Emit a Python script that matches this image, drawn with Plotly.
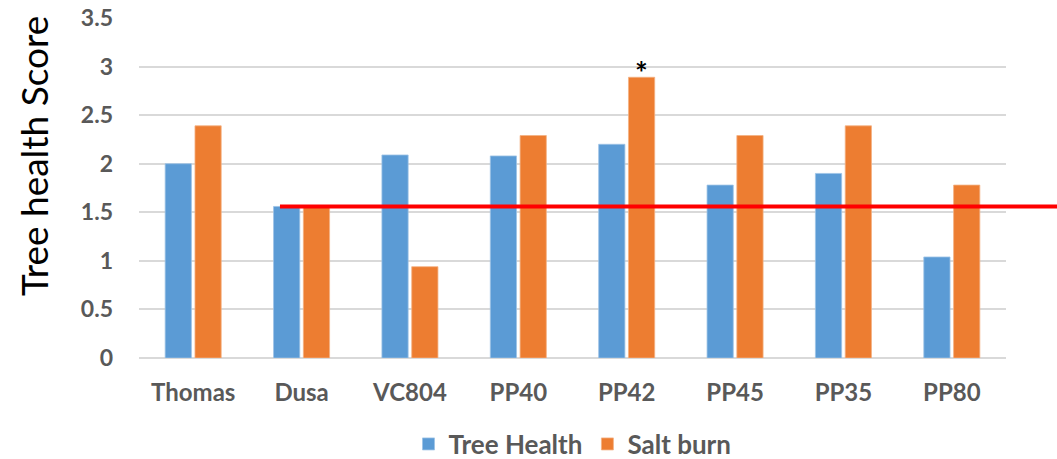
import plotly.graph_objects as go

categories = ["Thomas", "Dusa", "VC804", "PP40", "PP42", "PP45", "PP35", "PP80"]
tree_health = [2.0, 1.56, 2.09, 2.08, 2.2, 1.78, 1.9, 1.04]
salt_burn = [2.39, 1.56, 0.94, 2.29, 2.89, 2.29, 2.39, 1.78]
threshold = 1.56
star_category = "PP42"
star_value = 2.89
y_title = "Tree health Score"

BLUE = "#5B9BD5"
ORANGE = "#ED7D31"
GRAY = "#595959"
FONT = "Lato"

fig = go.Figure()
fig.add_trace(go.Bar(name="Tree Health", x=categories, y=tree_health,
                     marker=dict(color=BLUE, line=dict(color="#9DC3E6", width=0.8))))
fig.add_trace(go.Bar(name="Salt burn", x=categories, y=salt_burn,
                     marker=dict(color=ORANGE, line=dict(color="#F4B183", width=0.8))))

fig.add_shape(type="line", xref="paper", yref="y", x0=0.1626, x1=1.06,
              y0=threshold, y1=threshold, line=dict(color="#FF0000", width=4), layer="above")

fig.add_annotation(x=star_category, y=star_value, text="*", showarrow=False,
                   xshift=15, yshift=5, yanchor="middle",
                   font=dict(family=FONT, size=30, color="black", weight="bold"))

fig.add_annotation(xref="paper", yref="paper", x=-0.1223, y=0.594, text=y_title,
                   textangle=-90, showarrow=False, xanchor="center", yanchor="middle",
                   font=dict(family=FONT, size=37, color="black"))

fig.update_layout(
    width=1057, height=459,
    margin=dict(l=139, r=51, t=18, b=101, autoexpand=False),
    plot_bgcolor="white", paper_bgcolor="white",
    barmode="group", bargap=0.45, bargroupgap=0.12,
    font=dict(family=FONT, color=GRAY),
    legend=dict(orientation="h", x=0.5, xanchor="center", y=-0.253, yanchor="middle",
                font=dict(family=FONT, size=26, color=GRAY, weight="bold"),
                itemwidth=30, traceorder="normal"),
)
fig.update_xaxes(showgrid=False, showline=False, ticks="", ticklabelstandoff=18,
                 automargin=False,
                 tickfont=dict(family=FONT, size=24, color=GRAY, weight="bold"))
fig.update_yaxes(range=[0, 3.5], dtick=0.5, showgrid=True, gridcolor="#D9D9D9", gridwidth=1.5,
                 zeroline=True, zerolinecolor="#D9D9D9", zerolinewidth=1.5,
                 ticks="", ticklabelstandoff=25, automargin=False,
                 tickfont=dict(family=FONT, size=23, color=GRAY, weight="bold"))

fig.write_html("out.html")
